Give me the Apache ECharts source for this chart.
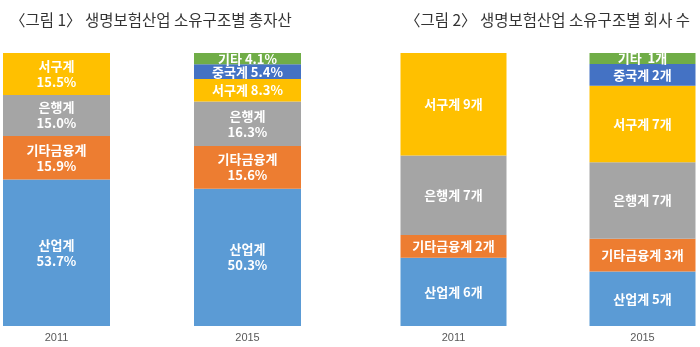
<!DOCTYPE html>
<html><head><meta charset="utf-8">
<script src="https://cdn.jsdelivr.net/npm/echarts@6/dist/echarts.min.js"></script>
<style>html,body{margin:0;padding:0;background:#fff}#c{width:700px;height:347px}</style>
</head><body><div id="c"></div>
<script>
const years = ['2011', '2015'];
const groups = ['산업계', '기타금융계', '은행계', '서구계', '중국계', '기타'];
const colors = ['#5B9BD5', '#ED7D31', '#A5A5A5', '#FFC000', '#4472C4', '#70AD47'];
// Figure 1: share of total assets (%), per group, [2011, 2015]
const assets = {
  '산업계': [53.7, 50.3],
  '기타금융계': [15.9, 15.6],
  '은행계': [15.0, 16.3],
  '서구계': [15.5, 8.3],
  '중국계': [null, 5.4],
  '기타': [null, 4.1]
};
// Figure 2: number of companies, per group, [2011, 2015]
const counts = {
  '산업계': [6, 5],
  '기타금융계': [2, 3],
  '은행계': [7, 7],
  '서구계': [9, 7],
  '중국계': [null, 2],
  '기타': [null, 1]
};
const title1 = '〈그림 1〉 생명보험산업 소유구조별 총자산';
const title2 = '〈그림 2〉 생명보험산업 소유구조별 회사 수';

const font = '"Noto Sans CJK KR", "Noto Sans", sans-serif';
const totals2 = years.map((_, i) => groups.reduce((s, g) => s + (counts[g][i] || 0), 0));
const oneLine1 = ['서구계', '중국계', '기타'];

const series = [];
groups.forEach((g, gi) => {
  series.push({
    name: g, type: 'bar', stack: 'a', xAxisIndex: 0, yAxisIndex: 0,
    barWidth: 107, itemStyle: {color: colors[gi]},
    data: assets[g].map((v, i) => v == null ? null : {
      value: v,
      label: {
        show: true, color: '#fff', fontWeight: 'bold', fontSize: 13, fontFamily: font, lineHeight: 16,
        formatter: (i === 1 && oneLine1.includes(g))
          ? g + ' ' + v.toFixed(1) + '%'
          : g + '\n' + v.toFixed(1) + '%'
      }
    })
  });
  series.push({
    name: g, type: 'bar', stack: 'b', xAxisIndex: 1, yAxisIndex: 1,
    barWidth: 106, itemStyle: {color: colors[gi]},
    data: counts[g].map((v, i) => v == null ? null : {
      value: v / totals2[i] * 100,
      label: {
        show: true, color: '#fff', fontWeight: 'bold', fontSize: 13, fontFamily: font,
        formatter: g + (g === '기타' ? '  ' : ' ') + v + '개'
      }
    })
  });
});

const chart = echarts.init(document.getElementById('c'), null, {renderer: 'canvas'});
const titleStyle = {fontSize: 15.5, fontWeight: 'normal', color: '#333', fontFamily: font};
chart.setOption({
  animation: false,
  title: [
    {text: title1, left: 5, top: 7, textStyle: titleStyle},
    {text: title2, left: 400, top: 7, textStyle: titleStyle}
  ],
  grid: [
    {left: 56.5, width: 191, top: 53, bottom: 21},
    {left: 453.5, width: 189, top: 53, bottom: 21}
  ],
  xAxis: [0, 1].map(i => ({
    type: 'category', gridIndex: i, data: years, boundaryGap: false,
    axisLine: {show: false}, axisTick: {show: false},
    axisLabel: {color: '#595959', fontSize: 11, fontFamily: 'Liberation Sans, Arial, sans-serif', margin: 6}
  })),
  yAxis: [0, 1].map(i => ({
    type: 'value', gridIndex: i, min: 0, max: 100, show: false, splitLine: {show: false}
  })),
  series: series
});
</script></body></html>
